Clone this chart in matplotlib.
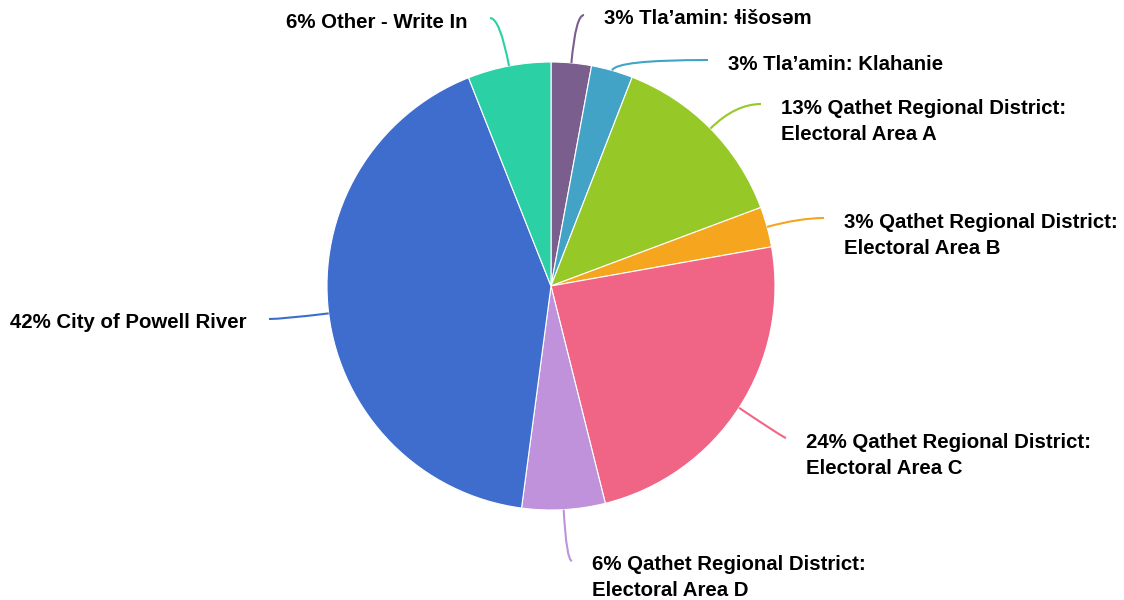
import matplotlib.pyplot as plt
import numpy as np
from matplotlib.path import Path
from matplotlib.patches import PathPatch

plt.rcParams['font.family'] = ['Liberation Sans', 'DejaVu Sans']

# slices, clockwise from 12 o'clock
names = [
    "Tla\u2019amin: \u026ci\u0161os\u0259m",
    "Tla\u2019amin: Klahanie",
    "Qathet Regional District:\nElectoral Area A",
    "Qathet Regional District:\nElectoral Area B",
    "Qathet Regional District:\nElectoral Area C",
    "Qathet Regional District:\nElectoral Area D",
    "City of Powell River",
    "Other - Write In",
]
shares = [2.9, 3.0, 13.4, 2.9, 23.9, 6.0, 41.9, 6.0]
colors = ["#7a5e8e", "#42a3c6", "#96c828", "#f5a51e",
          "#f06586", "#bf92db", "#3e6dce", "#2bd1a5"]

# label anchors in pixels (x of text edge, y of first line), y from top
label_pos = [(604, 19), (728, 64), (781, 108), (844, 222),
             (806, 442), (592, 565), (247, 323), (468, 22)]

W, H = 1124, 600
cx, cy, R = 551, H - 286, 224

fig = plt.figure(figsize=(W / 100, H / 100), dpi=100)
ax = fig.add_axes([0, 0, 1, 1])

wedges, _ = ax.pie(shares, colors=colors, startangle=90, counterclock=False,
                   center=(cx, cy), radius=R, frame=True,
                   wedgeprops=dict(edgecolor='white', linewidth=0.8))
ax.set_xlim(0, W)
ax.set_ylim(0, H)
ax.set_aspect('equal')
ax.axis('off')

for w, name, val, col, (lx, ly) in zip(wedges, names, shares, colors, label_pos):
    mid = np.deg2rad((w.theta1 + w.theta2) / 2)
    d = np.array([np.cos(mid), np.sin(mid)])
    start = np.array([cx, cy]) + d * R
    right = lx > cx
    ey = H - ly + 4
    ex = lx - 20 if right else lx + 22
    # control point: radial line at the end's height
    if abs(d[1]) > 0.05:
        t = (ey - start[1]) / d[1]
        t = max(t, 5)
        ctrl = start + d * t
    else:
        ctrl = start + d * 20
    if right:
        ctrl[0] = min(ctrl[0], ex - 2)
    else:
        ctrl[0] = max(ctrl[0], ex + 2)
    p = Path([start, ctrl, (ex, ey)], [Path.MOVETO, Path.CURVE3, Path.CURVE3])
    ax.add_patch(PathPatch(p, fc='none', ec=col, lw=1.5))

    lines = f"{round(val)}% {name}".split("\n")
    for i, ln in enumerate(lines):
        ax.text(lx, H - ly - i * 26, ln, ha='left' if right else 'right',
                va='center', fontsize=14.7, fontweight='bold', color='#000000')

fig.savefig('out.png', dpi=100)
